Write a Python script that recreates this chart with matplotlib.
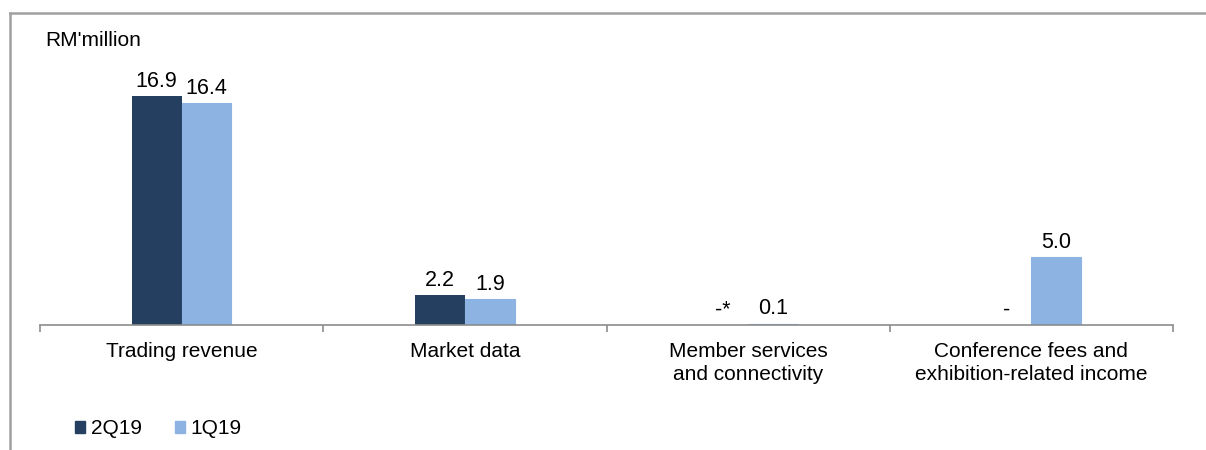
import matplotlib
matplotlib.use("Agg")
import matplotlib.pyplot as plt
from matplotlib.patches import Patch
from matplotlib.lines import Line2D
import numpy as np

plt.rcParams['font.family'] = ['Liberation Sans', 'DejaVu Sans']

categories = ["Trading revenue", "Market data", "Member services\nand connectivity",
              "Conference fees and\nexhibition-related income"]
series_names = ["2Q19", "1Q19"]
values_2q19 = [16.9, 2.2, 0.0, 0.0]
values_1q19 = [16.4, 1.9, 0.1, 5.0]
labels_2q19 = ["16.9", "2.2", "-*", "-"]
labels_1q19 = ["16.4", "1.9", "0.1", "5.0"]
unit_label = "RM'million"

dark = "#243F60"
light = "#8DB3E2"
FS = 15

W, H = 1206, 450
fig = plt.figure(figsize=(W / 100, H / 100), dpi=100)
ax = fig.add_axes([40 / W, 1 - 325 / H, (1173 - 40) / W, (325 - 81) / H])

x = np.arange(len(categories))
bw = 0.176
b1 = ax.bar(x - bw / 2, values_2q19, bw, color=dark, label=series_names[0])
b2 = ax.bar(x + bw / 2, values_1q19, bw, color=light, label=series_names[1],
            edgecolor=light, linewidth=0.8)

for bars, labs in ((b1, labels_2q19), (b2, labels_1q19)):
    for rect, lab in zip(bars, labs):
        ax.annotate(lab, (rect.get_x() + rect.get_width() / 2, rect.get_height()),
                    xytext=(0, 3), textcoords="offset points", ha="center", va="bottom",
                    fontsize=FS + 0.5, color="black")

ax.set_xlim(-0.5, len(categories) - 0.5)
ax.set_ylim(0, 18)
for s in ("top", "right", "left"):
    ax.spines[s].set_visible(False)
ax.spines["bottom"].set_color("#8C8C8C")
ax.spines["bottom"].set_linewidth(1.2)
ax.set_yticks([])
ax.set_xticks(x)
ax.set_xticklabels(categories, fontsize=FS, linespacing=1.3)
ax.tick_params(axis="x", which="major", length=0, pad=12)
ax.set_xticks(np.arange(len(categories) + 1) - 0.5, minor=True)
ax.tick_params(axis="x", which="minor", length=5, color="#8C8C8C", width=1.2, direction="out")

fig.text(45 / W, 1 - 41 / H, unit_label, fontsize=FS, ha="left", va="center")

# frame lines
fig.add_artist(Line2D([10 / W, 1.0], [1 - 13 / H, 1 - 13 / H], color="#A0A0A0", lw=1.8,
                      transform=fig.transFigure))
fig.add_artist(Line2D([10 / W, 10 / W], [1 - 13 / H, 0], color="#A0A0A0", lw=1.8,
                      transform=fig.transFigure))

handles = [Patch(color=dark), Patch(color=light)]
fig.legend(handles, series_names, loc="center left", bbox_to_anchor=(75 / W, 1 - 429 / H),
           ncol=2, frameon=False, fontsize=FS, handlelength=0.5, handleheight=0.5,
           handletextpad=0.25, columnspacing=1.6, borderpad=0, borderaxespad=0)

fig.savefig("out.png", dpi=100)
